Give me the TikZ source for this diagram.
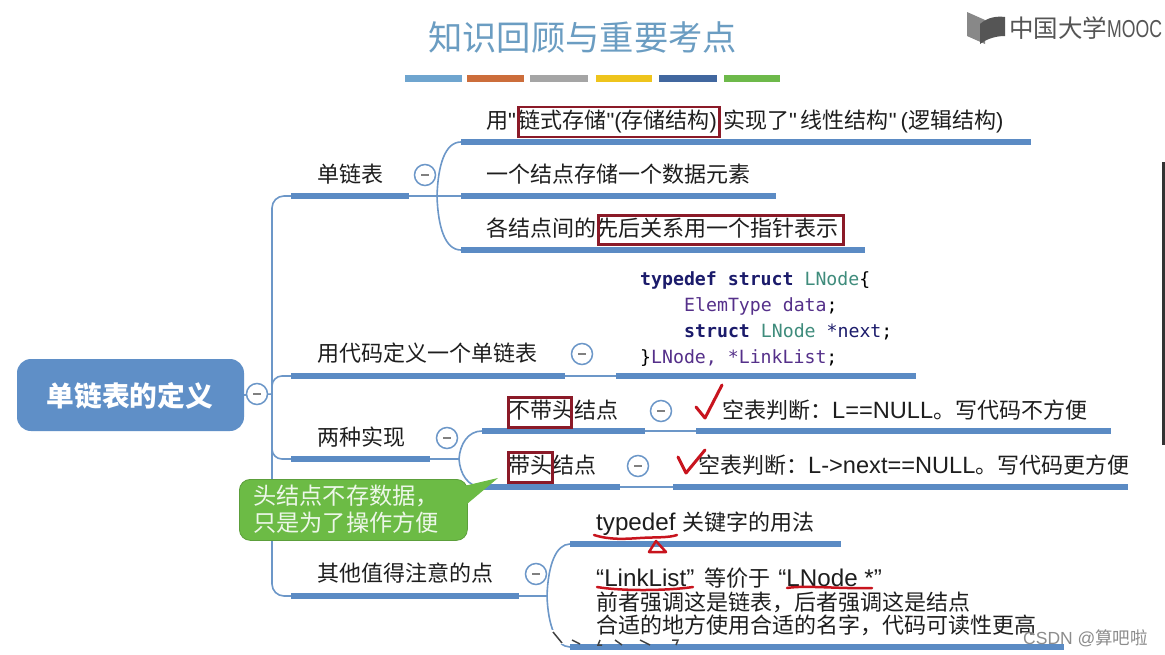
\documentclass[tikz,border=0pt]{standalone}
\usepackage{fontspec}
\setmainfont{Noto Sans CJK SC}
\newfontfamily\lat{Liberation Sans}
\newfontfamily\code{DejaVu Sans Mono}
\newcommand{\latbig}[1]{{\lat\fontsize{24.2}{26}\selectfont #1}}
\newcommand{\latmid}[1]{{\lat\fontsize{23.6}{26}\selectfont #1}}
\definecolor{titleblue}{HTML}{6B9DC2}
\definecolor{tblue}{HTML}{5F8FC7}
\definecolor{barblue}{HTML}{5B8BC4}
\definecolor{thinblue}{HTML}{6C97C8}
\definecolor{boxred}{HTML}{8B1A28}
\definecolor{inkred}{HTML}{C8141E}
\definecolor{tgreen}{HTML}{6CBB45}
\definecolor{txt}{HTML}{1E1E1E}
\definecolor{navy}{HTML}{1B1B6B}
\definecolor{teal2}{HTML}{3F8C7C}
\definecolor{purp}{HTML}{55308A}
\definecolor{dA}{HTML}{6FA5CF}
\definecolor{dB}{HTML}{CC6D3B}
\definecolor{dC}{HTML}{A5A5A5}
\definecolor{dD}{HTML}{EEC41C}
\definecolor{dE}{HTML}{41679F}
\definecolor{dF}{HTML}{6DB94A}
\definecolor{logogray}{HTML}{555555}
\tikzset{
  lbl/.style={anchor=base west,inner sep=0pt,text=txt,font=\fontsize{22}{24}\selectfont},
  codeln/.style={anchor=base west,inner sep=0pt,font=\code\fontsize{18.2}{20}\selectfont},
  bar/.style={line width=5.5pt,color=barblue},
  thinl/.style={line width=1.6pt,color=thinblue},
  redbox/.style={draw=boxred,line width=2.6pt,inner sep=0pt,fill=none,anchor=north west},
  collapse/.style={circle,draw=thinblue,fill=white,line width=1.5pt,minimum size=21pt,inner sep=0pt,
    path picture={\draw[line width=1.3pt,color=gray] ([xshift=-4pt]path picture bounding box.center) -- ([xshift=4pt]path picture bounding box.center);}},
  deco/.style={line width=6.5pt},
  ink/.style={color=inkred,line width=2.5pt,line cap=round,line join=round},
  caltext/.style={anchor=base west,inner sep=0pt,text=white!88!tgreen,font=\fontsize{23.2}{26}\selectfont},
}
\begin{document}
\begin{tikzpicture}[x=1pt,y=-1pt]
\useasboundingbox (0,0) rectangle (1165,654);
\fill[white] (0,0) rectangle (1165,654);
% title and colour strip
\node[anchor=base west,inner sep=0pt,text=titleblue,font=\fontsize{34.3}{36}\selectfont] (title) at (428,50) {知识回顾与重要考点};
\draw[deco,color=dA] (405,78.5) -- (462,78.5);
\draw[deco,color=dB] (467,78.5) -- (524,78.5);
\draw[deco,color=dC] (530,78.5) -- (588,78.5);
\draw[deco,color=dD] (596,78.5) -- (652,78.5);
\draw[deco,color=dE] (659,78.5) -- (717,78.5);
\draw[deco,color=dF] (724,78.5) -- (780,78.5);
% logo
\fill[logogray!70] (967,12) -- (985,20) -- (985,44) -- (967,36) -- cycle;
\fill[logogray] (980,24) .. controls (988,17) and (997,16) .. (1005,17) -- (1005,36) .. controls (997,36) and (988,38) .. (980,44) -- cycle;
\node[anchor=base west,inner sep=0pt,text=logogray,font=\fontsize{24.5}{26}\selectfont] (logo) at (1009,37) {中国大学\scalebox{0.72}[1]{\lat MOOC}};
% side mark
\fill[black!80] (1162,162) rectangle (1165,445);
% root
\node[rounded corners=14pt,fill=tblue,minimum width=227pt,minimum height=72pt,inner sep=0pt] (root) at (130.5,395) {};
\node[anchor=center,inner sep=0pt,text=white,font=\fontsize{27.7}{30}\selectfont\bfseries] (rootlbl) at (130,396) {单链表的定义};
% junction coordinates
\coordinate (trunk) at (272,394);
\coordinate (a0) at (291,196); \coordinate (a1) at (409,196); \coordinate (aj) at (437,196);
\coordinate (a2) at (461,142); \coordinate (a2e) at (1031,142);
\coordinate (a3) at (461,196); \coordinate (a3e) at (776,196);
\coordinate (a4) at (461,250); \coordinate (a4e) at (865,250);
\coordinate (b0) at (291,376); \coordinate (b1) at (565,376); \coordinate (b2) at (616,376); \coordinate (b3) at (916,376);
\coordinate (c0) at (291,459); \coordinate (c1) at (430,459); \coordinate (cj) at (459,459);
\coordinate (c2) at (482,431); \coordinate (c3) at (645,431); \coordinate (c4) at (696,431); \coordinate (c5) at (1111,431);
\coordinate (c6) at (482,487); \coordinate (c7) at (620,487); \coordinate (c8) at (673,487); \coordinate (c9) at (1128,487);
\coordinate (d0) at (291,596); \coordinate (d1) at (519,596); \coordinate (dj) at (547,596);
\coordinate (d2) at (570,544); \coordinate (d3) at (841,544);
\coordinate (d4) at (570,647); \coordinate (d5) at (1064,647);
% connectors
\draw[thinl] (root.east) -- (trunk);
\draw[thinl,rounded corners=12pt] (a0) -| (trunk) |- (d0);
\draw[thinl,rounded corners=10pt] (trunk |- b0) ++(0,10) |- (b0);
\draw[thinl,rounded corners=10pt] (trunk |- c0) ++(0,-12) |- (c0);
\draw[thinl] (a1) -- (aj);
\draw[thinl] (aj) .. controls (438,165) and (445,142) .. (a2);
\draw[thinl] (aj) -- (a3);
\draw[thinl] (aj) .. controls (438,227) and (445,250) .. (a4);
\draw[thinl] (b1) -- (b2);
\draw[thinl] (c1) -- (cj);
\draw[thinl] (cj) .. controls (460,444) and (468,431) .. (c2);
\draw[thinl] (cj) .. controls (460,474) and (468,487) .. (c6);
\draw[thinl] (c3) -- (c4);
\draw[thinl] (c7) -- (c8);
\draw[thinl] (d1) -- (dj);
\draw[thinl] (dj) .. controls (548,565) and (556,544) .. (d2);
\draw[thinl] (dj) .. controls (548,625) and (556,647) .. (d4);
% bars
\draw[bar] (a0) -- (a1);
\draw[bar] (a2) -- (a2e);
\draw[bar] (a3) -- (a3e);
\draw[bar] (a4) -- (a4e);
\draw[bar] (b0) -- (b1);
\draw[bar] (b2) -- (b3);
\draw[bar] (c0) -- (c1);
\draw[bar] (c2) -- (c3);
\draw[bar] (c4) -- (c5);
\draw[bar] (c6) -- (c7);
\draw[bar] (c8) -- (c9);
\draw[bar] (d0) -- (d1);
\draw[bar] (d2) -- (d3);
\draw[bar] (d4) -- (d5);
% collapse marks
\node[collapse] (m0) at (257,394) {};
\node[collapse] (m1) at (425,175) {};
\node[collapse] (m2) at (582,354) {};
\node[collapse] (m3) at (447,438) {};
\node[collapse] (m4) at (661,411) {};
\node[collapse] (m5) at (638,466) {};
\node[collapse] (m6) at (536,574) {};
% labels
\node[lbl] (n1) at (317,182) {单链表};
\node[lbl] (n2) at (317,361) {用代码定义一个单链表};
\node[lbl] (n3) at (317,445) {两种实现};
\node[lbl] (n4) at (317,581) {其他值得注意的点};
\node[lbl] (t1) at (486,128) {用{\lat "}\hspace{2.5pt}链式存储{\lat "(}存储结构{\lat ) }实现了{\lat "}\hspace{4pt}线性结构{\lat "}\hspace{4pt}{\lat (}逻辑结构{\lat )}};
\node[lbl] (t2) at (486,182) {一个结点存储一个数据元素};
\node[lbl] (t3) at (486,236) {各结点间的先后关系用一个指针表示};
\node[redbox,minimum width=201pt,minimum height=30pt] (r1) at (517,105.5) {};
\node[redbox,minimum width=245pt,minimum height=29pt] (r2) at (597,214) {};
% code
\node[codeln,text=navy] (co1) at (640,285) {\textbf{typedef struct} \textcolor{teal2}{LNode}\textcolor{black}{\{}};
\node[codeln,text=purp] (co2) at (684,311) {ElemType data\textcolor{black}{;}};
\node[codeln,text=navy] (co3) at (684,337) {\textbf{struct} \textcolor{teal2}{LNode} *next\textcolor{black}{;}};
\node[codeln,text=purp] (co4) at (640,363) {\textcolor{black}{\}}LNode, *LinkList\textcolor{black}{;}};
% two implementations
\node[lbl] (u1) at (508,418) {不带头结点};
\node[redbox,minimum width=63pt,minimum height=30pt] (r3) at (507,396) {};
\node[lbl] (u2) at (722,418) {空表判断：\latmid{L==NULL}。写代码不方便};
\node[lbl] (v1) at (508,473) {带头结点};
\node[redbox,minimum width=44pt,minimum height=30pt] (r4) at (507,451) {};
\node[lbl] (v2) at (698,473) {空表判断：\latmid{L->next==NULL}。写代码更方便};
\draw[ink,line width=3pt] (696,407) -- (705,418) -- (722,385);
\draw[ink,line width=3pt] (678,457) -- (686,473) -- (705,450);
% callout
\node[anchor=north west,rounded corners=11pt,fill=tgreen,draw=tgreen!85!black,line width=0.8pt,minimum width=228pt,minimum height=61pt,inner sep=0pt] (cal) at (239,479) {};
\fill[tgreen] (464,486) -- (498,478) -- (467,504) -- cycle;
\node[caltext] (cal1) at (253,504) {头结点不存数据，};
\node[caltext] (cal2) at (253,531) {只是为了操作方便};
% others
\node[lbl] (w1) at (596,530) {\latbig{typedef }关键字的用法};
\node[lbl] (w2) at (596,586) {\latbig{“LinkList”}\hspace{10pt}等价于\hspace{8pt}\latbig{“LNode *”}};
\node[lbl] (w3) at (596,610) {前者强调这是链表，后者强调这是结点};
\node[lbl] (w4) at (596,633) {合适的地方使用合适的名字，代码可读性更高};
% handwriting
\draw[ink] (594,535) .. controls (610,540) and (625,539) .. (640,538) .. controls (655,537) and (668,538) .. (677,535);
\draw[ink] (656,541) -- (649,552) -- (666,552) -- cycle;
\draw[ink] (597,587) .. controls (620,591) and (665,591) .. (693,587);
\draw[ink] (787,588) .. controls (805,585) and (840,589) .. (872,588);
% garbled bottom fragments
\fill[white] (549,630) rectangle (585,644);
\draw[black!75,line width=1.5pt] (553,632) -- (562,643) (572,640) -- (580,644) (600,640) -- (598,645) -- (602,645) (615,640) -- (622,645) (640,640) -- (650,645) (672,640) -- (678,640) -- (676,645);
% watermark
\node[anchor=base west,inner sep=0pt,text=black!45,font=\fontsize{17.5}{19}\selectfont] (wm) at (1023,644) {{\lat CSDN @}算吧啦};
\end{tikzpicture}
\end{document}
